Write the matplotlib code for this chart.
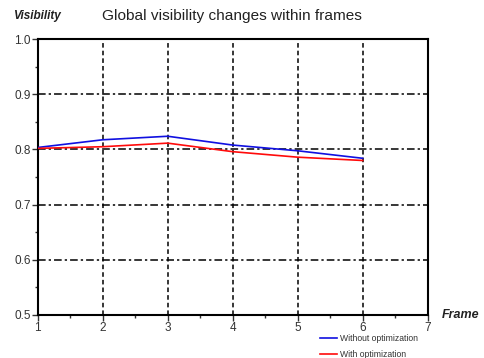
import numpy as np
import matplotlib.pyplot as plt

plt.rcParams['font.family'] = ['Liberation Sans', 'DejaVu Sans']

# data
frames = [1, 2, 3, 4, 5, 6]
without_opt = [0.8036, 0.8176, 0.824, 0.808, 0.7976, 0.784]
with_opt = [0.802, 0.805, 0.8115, 0.796, 0.786, 0.780]
x_ticks = [1, 2, 3, 4, 5, 6, 7]
y_ticks = [0.5, 0.6, 0.7, 0.8, 0.9, 1.0]

fig = plt.figure(figsize=(4.84, 3.58), dpi=100)
ax = fig.add_axes([0.0779, 0.1209, 0.8058, 0.7693])

# grid
for xv in x_ticks[1:-1]:
    ax.axvline(xv, color='black', lw=1.1, ls=(0, (3, 2)), zorder=1)
for yv in y_ticks[1:-1]:
    ax.axhline(yv, color='black', lw=1.1, ls=(0, (5, 2, 1.5, 2)), zorder=1)

ax.plot(frames, without_opt, color='#1010e0', lw=1.2, label='Without optimization', zorder=3)
ax.plot(frames, with_opt, color='#ff0a0a', lw=1.2, label='With optimization', zorder=3)

ax.set_xlim(1, 7)
ax.set_ylim(0.5, 1.0)
ax.set_xticks(x_ticks)
ax.set_xticks(np.arange(1.5, 7, 1), minor=True)
ax.set_yticks(y_ticks)
ax.set_yticks(np.arange(0.55, 1.0, 0.1), minor=True)
ax.set_yticklabels(['%.1f' % v for v in y_ticks])

ax.tick_params(axis='both', which='major', length=4, width=1, labelsize=8.5, colors='#333333', pad=1)
ax.tick_params(axis='both', which='minor', length=2, width=1, color='#333333')
for s in ax.spines.values():
    s.set_linewidth(1.5)

fig.text(0.027, 0.955, 'Visibility', fontsize=8.5, fontweight='bold', fontstyle='italic', color='#222222', va='center')
fig.text(0.211, 0.955, 'Global visibility changes within frames', fontsize=11.1, color='#222222', va='center')
fig.text(0.913, 0.121, 'Frame', fontsize=9, fontweight='bold', fontstyle='italic', color='#222222', va='center')

ax.legend(loc='upper left', bbox_to_anchor=(0.713, -0.055), frameon=False, fontsize=6.2,
          handlelength=2.0, handletextpad=0.3, labelspacing=0.75, borderpad=0, labelcolor='#333333')

fig.savefig('out.png', dpi=100, facecolor='white')
